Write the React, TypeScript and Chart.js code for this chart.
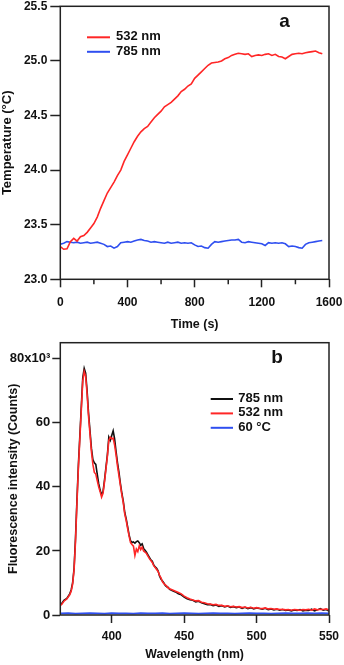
import React, { useEffect, useRef } from "react";
import { Chart, registerables } from "chart.js";
Chart.register(...registerables);

const FONT = '"Liberation Sans", Arial, Helvetica, sans-serif';
const RED = "#ff2626";
const BLUE = "#2f4ff0";
const BLACK = "#111111";
const AXIS = "#222222";

// ---- Panel a: temperature vs time ----
const timeS = [
  0, 20, 40, 60, 80, 100, 120, 140, 160, 180,
  200, 220, 240, 260, 280, 300, 320, 340, 360, 380,
  400, 420, 440, 460, 480, 500, 520, 540, 560, 580,
  600, 620, 640, 660, 680, 700, 720, 740, 760, 780,
  800, 820, 840, 860, 880, 900, 920, 940, 960, 980,
  1000, 1020, 1040, 1060, 1080, 1100, 1120, 1140, 1160, 1180,
  1200, 1220, 1240, 1260, 1280, 1300, 1320, 1340, 1360, 1380,
  1400, 1420, 1440, 1460, 1480, 1500, 1520, 1540, 1560,
];
const temp532 = [
  23.30, 23.275, 23.28, 23.345, 23.375, 23.35, 23.39, 23.40, 23.43, 23.47,
  23.51, 23.57, 23.65, 23.72, 23.79, 23.84, 23.89, 23.95, 24.00, 24.08,
  24.14, 24.20, 24.26, 24.31, 24.35, 24.38, 24.40, 24.44, 24.48, 24.51,
  24.54, 24.58, 24.60, 24.62, 24.65, 24.68, 24.72, 24.74, 24.77, 24.79,
  24.84, 24.87, 24.90, 24.93, 24.96, 24.98, 24.985, 24.99, 25.00, 25.02,
  25.03, 25.05, 25.06, 25.07, 25.065, 25.06, 25.065, 25.04, 25.05, 25.055,
  25.05, 25.06, 25.065, 25.05, 25.06, 25.04, 25.035, 25.02, 25.04, 25.06,
  25.065, 25.07, 25.065, 25.075, 25.08, 25.085, 25.09, 25.075, 25.065,
];
const temp785 = [
  23.32, 23.33, 23.345, 23.34, 23.335, 23.34, 23.33, 23.335, 23.34, 23.33,
  23.335, 23.34, 23.33, 23.32, 23.30, 23.305, 23.285, 23.30, 23.335, 23.34,
  23.345, 23.34, 23.35, 23.36, 23.365, 23.355, 23.35, 23.34, 23.345, 23.34,
  23.335, 23.33, 23.34, 23.33, 23.335, 23.34, 23.33, 23.335, 23.33, 23.335,
  23.315, 23.30, 23.305, 23.29, 23.285, 23.32, 23.345, 23.34, 23.345, 23.35,
  23.355, 23.36, 23.36, 23.365, 23.34, 23.335, 23.345, 23.34, 23.335, 23.33,
  23.325, 23.31, 23.335, 23.33, 23.335, 23.33, 23.335, 23.325, 23.30, 23.305,
  23.30, 23.29, 23.285, 23.32, 23.335, 23.34, 23.345, 23.35, 23.355,
];
const tempTicks = [23.0, 23.5, 24.0, 24.5, 25.0, 25.5];
const timeTicks = [0, 400, 800, 1200, 1600];
const timeMinorTicks = [200, 600, 1000, 1400];

// ---- Panel b: fluorescence vs wavelength (values in 10^3 counts) ----
const wavelength = [
  365, 367, 369, 371, 372, 373, 374, 375, 376, 377,
  378, 379, 380, 381, 382, 383, 384, 385, 386, 387,
  388, 389, 390, 391, 392, 393, 394, 395, 396, 397,
  398, 399, 400, 401, 402, 403, 404, 405, 406, 407,
  408, 409, 410, 411, 412, 413, 414, 415, 416, 417,
  418, 419, 420, 421, 422, 423, 424, 425, 426, 427,
  428, 429, 430, 431, 432, 433, 434, 435, 436, 437,
  438, 439, 440, 442, 444, 446, 448, 450, 452, 454,
  456, 458, 460, 462, 464, 466, 468, 470, 472, 474,
  476, 478, 480, 482, 484, 486, 488, 490, 492, 494,
  496, 498, 500, 502, 504, 506, 508, 510, 512, 514,
  516, 518, 520, 522, 524, 526, 528, 530, 532, 534,
  536, 538, 540, 542, 544, 546, 548, 550,
];
const fl785 = [
  3.3, 4.6, 5.2, 6.6, 7.8, 10.0, 14.5, 24, 36, 47,
  56, 65, 74, 77, 75.5, 70, 63, 57.5, 52, 48.5,
  47.5, 47, 44, 41, 39, 37.5, 38.5, 42, 46, 50,
  55.5, 54.5, 56, 57.5, 55, 51, 47.5, 44.5, 41, 38,
  35.5, 32, 30, 27.5, 25, 23.2, 22.6, 22.8, 22.4, 22.9,
  23.1, 22.6, 21.8, 22.2, 20.8, 20.2, 19.6, 18.8, 18.0, 17.2,
  16.8, 15.6, 15.0, 14.6, 13.8, 12.2, 11.2, 10.6, 10.0, 9.2,
  8.8, 8.6, 8.0, 7.6, 7.2, 6.6, 6.3, 5.6, 5.1, 4.8,
  4.6, 4.1, 4.3, 3.8, 3.5, 3.2, 3.3, 2.9, 3.1, 2.7,
  2.9, 2.5, 2.8, 2.4, 2.6, 2.3, 2.5, 2.1, 2.4, 2.0,
  2.3, 1.9, 2.2, 2.0, 1.8, 2.1, 1.7, 1.9, 1.6, 1.8,
  1.5, 1.7, 1.4, 1.6, 1.3, 1.6, 1.4, 1.7, 1.3, 1.5,
  1.4, 1.8, 1.3, 1.6, 2.0, 1.5, 1.7, 1.2,
];
const fl532 = [
  3.0, 4.3, 5.0, 6.3, 7.4, 9.6, 14.0, 23, 35, 46,
  55, 64, 73, 76, 74.5, 69, 62, 56.5, 51, 47,
  44.5, 44, 42, 40, 38.5, 36.8, 38, 41.5, 45.5, 49.5,
  54.5, 55.5, 55, 55.2, 53, 50, 46.5, 43.5, 40.5, 37.5,
  35, 31.5, 29.5, 27, 24.6, 22.6, 22.0, 21.5, 18.6, 20.6,
  19.8, 21.6, 20.4, 21.2, 20.0, 19.6, 19.2, 18.4, 17.6, 17.0,
  16.4, 15.4, 14.8, 14.2, 13.6, 12.4, 11.6, 10.4, 9.8, 9.4,
  9.0, 8.4, 8.2, 7.8, 7.4, 7.0, 6.6, 5.9, 5.4, 5.0,
  4.7, 4.4, 4.5, 4.0, 3.8, 3.5, 3.4, 3.2, 3.3, 3.0,
  3.0, 2.7, 2.9, 2.6, 2.7, 2.5, 2.6, 2.3, 2.5, 2.2,
  2.4, 2.1, 2.3, 2.1, 2.0, 2.2, 1.9, 2.0, 1.8, 1.9,
  1.7, 1.8, 1.6, 1.7, 1.5, 1.7, 1.6, 1.5, 1.7, 1.6,
  1.8, 1.5, 1.9, 1.6, 1.8, 1.7, 1.9, 1.6,
];
const wavelength60 = [
  365, 370, 375, 380, 385, 390, 395, 400, 405, 410,
  415, 420, 425, 430, 435, 440, 445, 450, 455, 460,
  465, 470, 475, 480, 485, 490, 495, 500, 505, 510,
  515, 520, 525, 530, 535, 540, 545, 550,
];
const fl60 = [
  0.5, 0.6, 0.4, 0.5, 0.6, 0.5, 0.4, 0.6, 0.5, 0.5,
  0.4, 0.6, 0.5, 0.5, 0.6, 0.4, 0.5, 0.6, 0.5, 0.4,
  0.5, 0.6, 0.5, 0.5, 0.4, 0.5, 0.6, 0.5, 0.5, 0.4,
  0.5, 0.6, 0.5, 0.5, 0.6, 0.5, 0.6, 0.5,
];
const flTicks = [0, 20, 40, 60, 80];
const wlTicks = [400, 450, 500, 550];

const pts = (xs: number[], ys: number[]) => xs.map((x, i) => ({ x, y: ys[i] }));

function makeDeco(o: {
  letter: string; letterDx: number; letterDy: number;
  legX0: number; legX1: number; legTx: number; legY: number; legDy: number;
  minor?: number[]; minorLen?: number;
}) {
  return {
    id: "deco",
    afterDraw(chart: any) {
      const { ctx, chartArea: ca } = chart;
      ctx.save();
      ctx.strokeStyle = AXIS;
      ctx.lineWidth = 1.5;
      ctx.strokeRect(ca.left, ca.top, ca.right - ca.left, ca.bottom - ca.top);
      if (o.minor) {
        const sx = chart.scales.x;
        ctx.beginPath();
        o.minor.forEach((v) => {
          const px = sx.getPixelForValue(v);
          ctx.moveTo(px, ca.bottom);
          ctx.lineTo(px, ca.bottom + (o.minorLen || 5));
        });
        ctx.stroke();
      }
      ctx.fillStyle = BLACK;
      ctx.font = `bold 19px ${FONT}`;
      ctx.textAlign = "left";
      ctx.textBaseline = "alphabetic";
      ctx.fillText(o.letter, ca.left + o.letterDx, ca.top + o.letterDy);
      ctx.font = `bold 13px ${FONT}`;
      ctx.textBaseline = "middle";
      chart.data.datasets.forEach((ds: any, i: number) => {
        const y = ca.top + o.legY + i * o.legDy;
        ctx.strokeStyle = ds.borderColor;
        ctx.lineWidth = 2;
        ctx.beginPath();
        ctx.moveTo(ca.left + o.legX0, y);
        ctx.lineTo(ca.left + o.legX1, y);
        ctx.stroke();
        ctx.fillStyle = BLACK;
        ctx.fillText(ds.label, ca.left + o.legTx, y - 0.5);
      });
      ctx.restore();
    },
  };
}

const fixTicks = (arr: number[]) => (s: any) => {
  s.ticks = arr.map((v) => ({ value: v }));
};
const fixSize = (dim: "width" | "height", v: number) => (s: any) => {
  s[dim] = v;
  s.paddingLeft = 0;
  s.paddingRight = 0;
  s.paddingTop = 0;
  s.paddingBottom = 0;
};

const gridOpts = (len: number) => ({
  display: true,
  drawOnChartArea: false,
  drawTicks: true,
  tickLength: len,
  tickColor: AXIS,
  tickWidth: 1.5,
});

export default function App() {
  const topRef = useRef<HTMLCanvasElement>(null);
  const botRef = useRef<HTMLCanvasElement>(null);

  useEffect(() => {
    const c1 = new Chart(topRef.current as HTMLCanvasElement, {
      type: "line",
      data: {
        datasets: [
          { label: "532 nm", data: pts(timeS, temp532), borderColor: RED, borderWidth: 1.6, pointRadius: 0, tension: 0 },
          { label: "785 nm", data: pts(timeS, temp785), borderColor: BLUE, borderWidth: 1.6, pointRadius: 0, tension: 0 },
        ],
      },
      options: {
        animation: false,
        responsive: false,
        events: [],
        layout: { padding: { left: 0, right: 15, top: 6.3, bottom: 0 } },
        plugins: { legend: { display: false }, tooltip: { enabled: false } },
        scales: {
          x: {
            type: "linear",
            min: 0,
            max: 1600,
            afterBuildTicks: fixTicks(timeTicks),
            afterFit: fixSize("height", 60.7),
            grid: gridOpts(8),
            border: { display: false },
            ticks: { color: BLACK, font: { family: FONT, size: 12, weight: "bold" }, padding: 8, maxRotation: 0, autoSkip: false, callback: (v: any) => String(v) },
            title: { display: true, text: "Time (s)", color: BLACK, font: { family: FONT, size: 12.5, weight: "bold" }, padding: { top: 0, bottom: 7.5 } },
          },
          y: {
            type: "linear",
            min: 23,
            max: 25.5,
            afterBuildTicks: fixTicks(tempTicks),
            afterFit: fixSize("width", 60.3),
            grid: gridOpts(10),
            border: { display: false },
            ticks: { color: BLACK, font: { family: FONT, size: 12, weight: "bold" }, padding: 3, callback: (v: any) => Number(v).toFixed(1) },
            title: { display: true, text: "Temperature (°C)", color: BLACK, font: { family: FONT, size: 13, weight: "bold" }, padding: { top: 0, bottom: 0 } },
          },
        },
      },
      plugins: [makeDeco({ letter: "a", letterDx: 219, letterDy: 21, legX0: 26.7, legX1: 49.7, legTx: 55.7, legY: 31, legDy: 14.5, minor: timeMinorTicks, minorLen: 5 })],
    } as any);

    const c2 = new Chart(botRef.current as HTMLCanvasElement, {
      type: "line",
      data: {
        datasets: [
          { label: "785 nm", data: pts(wavelength, fl785), borderColor: BLACK, borderWidth: 1.6, pointRadius: 0, tension: 0, order: 2 },
          { label: "532 nm", data: pts(wavelength, fl532), borderColor: RED, borderWidth: 1.6, pointRadius: 0, tension: 0, order: 1 },
          { label: "60 °C", data: pts(wavelength60, fl60), borderColor: BLUE, borderWidth: 1.8, pointRadius: 0, tension: 0, order: 0 },
        ],
      },
      options: {
        animation: false,
        responsive: false,
        events: [],
        layout: { padding: { left: 0, right: 15, top: 12.7, bottom: 0 } },
        plugins: { legend: { display: false }, tooltip: { enabled: false } },
        scales: {
          x: {
            type: "linear",
            min: 364.5,
            max: 550,
            afterBuildTicks: fixTicks(wlTicks),
            afterFit: fixSize("height", 50),
            grid: gridOpts(8),
            border: { display: false },
            ticks: { color: BLACK, font: { family: FONT, size: 12, weight: "bold" }, padding: 6.5, maxRotation: 0, autoSkip: false, callback: (v: any) => String(v) },
            title: { display: true, text: "Wavelength (nm)", color: BLACK, font: { family: FONT, size: 12.3, weight: "bold" }, padding: { top: 0, bottom: 3.1 } },
          },
          y: {
            type: "linear",
            min: 0,
            max: 85,
            afterBuildTicks: fixTicks(flTicks),
            afterFit: fixSize("width", 60.3),
            grid: gridOpts(8),
            border: { display: false },
            ticks: { color: BLACK, font: { family: FONT, size: 13, weight: "bold" }, padding: 2, callback: (v: any) => (Number(v) === 80 ? "80x10³" : String(v)) },
            title: { display: true, text: "Fluorescence intensity (Counts)", color: BLACK, font: { family: FONT, size: 12.5, weight: "bold" }, padding: { top: 6.5, bottom: 0 } },
          },
        },
      },
      plugins: [makeDeco({ letter: "b", letterDx: 211, letterDy: 20.6, legX0: 150.4, legX1: 172.7, legTx: 178, legY: 56.3, legDy: 14.4 })],
    } as any);

    return () => {
      c1.destroy();
      c2.destroy();
    };
  }, []);

  return (
    <div style={{ position: "fixed", left: 0, top: 0, width: 344, height: 665, background: "#ffffff" }}>
      <canvas ref={topRef} width={344} height={340} style={{ position: "absolute", left: 0, top: 0 }} />
      <canvas ref={botRef} width={344} height={335} style={{ position: "absolute", left: 0, top: 330 }} />
    </div>
  );
}
